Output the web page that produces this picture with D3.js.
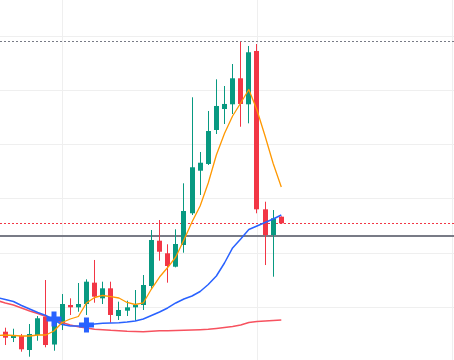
<!DOCTYPE html>
<html><head><meta charset="utf-8">
<script src="https://cdn.jsdelivr.net/npm/d3@7"></script>
<style>html,body{margin:0;padding:0;background:#fff;overflow:hidden}</style>
</head><body><svg id="c" width="454" height="360"></svg>
<script>
// ---- data (price units; bars indexed 0..34) ----
const bars   = d3.range(35);
const opens  = [5.45,4.29,4.66,2.08,4.84,8.21,3.09,6.69,10.37,9.94,10.55,14.48,11.60,13.44,8.34,9.32,9.94,10.37,13.87,22.21,19.89,17.42,21.42,27.26,35.10,36.34,42.60,46.46,47.33,52.12,47.33,57.15,27.99,23.26,26.63];
const highs  = [6.19,6.00,5.03,6.87,8.34,14.97,8.90,12.39,11.60,14.42,15.10,18.66,14.66,14.66,10.98,11.16,13.13,15.89,24.18,26.02,21.55,24.31,32.78,48.62,38.55,46.10,51.93,50.70,54.75,58.86,58.07,58.43,29.39,27.86,26.70];
const lows   = [3.00,3.55,1.77,0.85,3.79,2.58,1.95,5.76,8.53,9.13,8.53,10.79,10.55,7.11,7.61,8.34,7.48,9.45,13.26,18.53,14.48,17.30,20.00,26.94,30.63,36.15,41.86,43.70,45.54,43.20,43.83,27.26,17.73,15.58,25.28];
const closes = [4.35,4.66,2.21,5.03,7.92,3.00,7.97,10.55,9.94,10.55,14.66,11.90,13.44,8.53,9.45,9.94,10.37,14.05,22.34,20.18,17.55,21.60,27.68,35.73,36.57,42.41,47.02,47.39,52.12,47.39,56.91,27.99,23.26,26.34,25.41];
// moving averages, first value belongs to bar index -1 (just off-screen)
const maStart = -1;
const maFast = [4.75,4.84,4.75,4.66,4.66,4.84,4.84,5.58,7.15,7.79,8.25,10.74,11.75,12.12,11.93,11.66,10.83,10.46,10.74,13.31,15.52,17.27,19.21,22.34,25.65,28.60,32.84,37.99,41.95,45.17,47.57,50.06,46.28,41.49,36.43,32.10];
const maMid  = [11.75,11.38,11.01,10.28,9.63,8.99,8.43,7.61,6.78,6.50,6.50,6.59,6.87,7.00,7.05,7.11,7.24,7.42,7.79,8.43,9.08,9.82,10.74,11.47,12.03,12.85,14.14,15.71,18.10,20.87,22.52,24.27,24.92,25.56,26.21,26.94];
const maSlow = [11.20,10.74,10.37,9.82,9.26,8.80,8.25,7.70,7.15,6.69,6.37,6.13,5.89,5.82,5.71,5.64,5.54,5.49,5.45,5.52,5.62,5.64,5.67,5.71,5.76,5.82,5.89,6.04,6.22,6.41,6.69,7.15,7.33,7.42,7.51,7.61];
const crossIdx = [6, 10];
const crossVal = [7.79, 6.69];
const gridPrices = [10, 20, 30, 40, 50, 60];
const gridBars = [7, 31, 55];
const highLine = 58.93;
const lastLine = 25.41;
const baseLine = 23.08;

// ---- scales ----
const W = 454, H = 360;
const x = d3.scaleLinear().domain([0, 34]).range([5.3, 281.3]);
const y = d3.scaleLinear().domain([10, 60]).range([307, 35.5]);
const UP = "#089981", DOWN = "#f23645";

const svg = d3.select("#c");
svg.append("rect").attr("width", W).attr("height", H).attr("fill", "#fff");

// grid
svg.append("g").selectAll("line").data(gridPrices).join("line")
  .attr("x1", 0).attr("x2", W)
  .attr("y1", d => Math.round(y(d)) + 0.5).attr("y2", d => Math.round(y(d)) + 0.5)
  .attr("stroke", "#efefef").attr("stroke-width", 1);
svg.append("g").selectAll("line").data(gridBars).join("line")
  .attr("y1", 0).attr("y2", H)
  .attr("x1", d => Math.round(x(d)) + 0.5).attr("x2", d => Math.round(x(d)) + 0.5)
  .attr("stroke", "#efefef").attr("stroke-width", 1);

// price lines
const hl = (v, color, w, dash) => svg.append("line")
  .attr("x1", 0).attr("x2", W)
  .attr("y1", Math.round(y(v)) + (w % 2 ? 0.5 : 0)).attr("y2", Math.round(y(v)) + (w % 2 ? 0.5 : 0))
  .attr("stroke", color).attr("stroke-width", w).attr("stroke-dasharray", dash);
hl(highLine, "#787b86", 1, "2,2");
hl(lastLine, DOWN, 1, "2,2");
hl(baseLine, "#787b86", 2, null);

// candles
const g = svg.append("g");
bars.forEach(i => {
  const o = opens[i], c = closes[i], hi = highs[i], lo = lows[i];
  const col = c >= o ? UP : DOWN;
  const bx = Math.round(x(i) - 2.5);
  g.append("rect").attr("x", bx + 2).attr("width", 1)
    .attr("y", y(hi)).attr("height", Math.max(1, y(lo) - y(hi))).attr("fill", col);
  const top = y(Math.max(o, c)), bot = y(Math.min(o, c));
  g.append("rect").attr("x", bx).attr("width", 5)
    .attr("y", top).attr("height", Math.max(1, bot - top)).attr("fill", col);
});

// moving averages
const lineGen = d3.line().x((d, k) => x(k + maStart)).y(d => y(d));
[[maSlow, "#f7525f", 1.5], [maMid, "#2962ff", 1.5], [maFast, "#ff9800", 1.3]].forEach(([arr, col, w]) => {
  svg.append("path").datum(arr).attr("d", lineGen)
    .attr("fill", "none").attr("stroke", col).attr("stroke-width", w)
    .attr("stroke-linejoin", "round");
});

// cross markers
svg.append("g").selectAll("path").data(crossIdx).join("path")
  .attr("d", d3.symbol(d3.symbolCross, 125))
  .attr("transform", (d, k) => `translate(${x(d)},${y(crossVal[k])})`)
  .attr("fill", "#2962ff");
</script></body></html>
